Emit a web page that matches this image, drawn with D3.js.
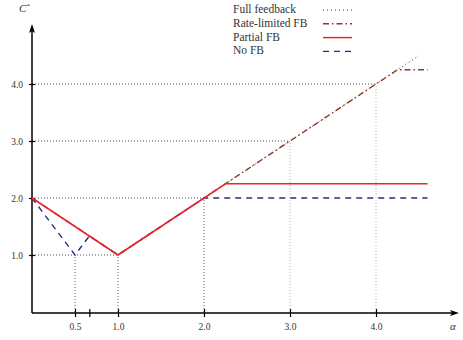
<!DOCTYPE html>
<html><head><meta charset="utf-8">
<script src="https://cdn.jsdelivr.net/npm/d3@7"></script>
<style>body{margin:0;background:#fff}svg{display:block}text{font-family:"Liberation Serif","DejaVu Serif",serif;fill:#333}</style>
</head><body>
<svg id="c" width="463" height="340"></svg>
<script>
const xTicks = [0.5, 2/3, 1, 2, 3, 4];
const xTickLabels = ["0.5", "", "1.0", "2.0", "3.0", "4.0"];
const yTicks = [1, 2, 3, 4];
const yTickLabels = ["1.0", "2.0", "3.0", "4.0"];
const seriesNames = ["Full feedback", "Rate-limited FB", "Partial FB", "No FB"];
const fullFB = [[0,2],[1,1],[4.5,4.5]];
const rateFB = [[0,2],[1,1],[4.25,4.25],[4.6,4.25]];
const partialFB = [[0,2],[1,1],[2.25,2.25],[4.6,2.25]];
const noFB = [[0,2],[0.5,1],[2/3,4/3],[1,1],[2,2],[4.6,2]];
const guides = [[0.5,1],[1,1],[2,2],[3,3],[4,4]];

const svg = d3.select("#c");
const x = d3.scaleLinear().domain([0,1]).range([32,118]);
const y = d3.scaleLinear().domain([0,1]).range([312,255]);
const line = d3.line().x(d=>x(d[0])).y(d=>y(d[1]));

const gy = [[1,1],[2,2],[3,3],[4,4]];
gy.forEach(([gx,gyv])=>{
  svg.append("line").attr("x1",x(0)).attr("x2",x(gx)).attr("y1",y(gyv)).attr("y2",y(gyv))
    .attr("stroke","#222").attr("stroke-width",0.8).attr("stroke-dasharray","1,2");
});
guides.forEach(([gx,gyv])=>{
  svg.append("line").attr("x1",x(gx)).attr("x2",x(gx)).attr("y1",y(0)).attr("y2",y(gyv))
    .attr("stroke", gx>=3?"#999":"#333").attr("stroke-width",0.8).attr("stroke-dasharray","1,2");
});

const xAxis = d3.axisBottom(x).tickValues(xTicks).tickSize(0).tickFormat((d,i)=>xTickLabels[i]);
const gx = svg.append("g").attr("transform",`translate(0,${y(0)+1})`).call(xAxis);
gx.select(".domain").remove();
gx.selectAll(".tick text").attr("dy","1.5em").attr("y",3).style("font-size","9.5px").style("font-family","Liberation Serif, serif").attr("fill","#444");
gx.selectAll(".tick").append("line").attr("y1",-4).attr("y2",4).attr("stroke","#000").attr("stroke-width",1.2);

const yAxis = d3.axisLeft(y).tickValues(yTicks).tickSize(0).tickFormat((d,i)=>yTickLabels[i]);
const gyA = svg.append("g").attr("transform",`translate(${x(0)},0)`).call(yAxis);
gyA.select(".domain").remove();
gyA.selectAll(".tick text").attr("x",-9).style("font-size","9.5px").style("font-family","Liberation Serif, serif").attr("fill","#444");
gyA.selectAll(".tick").append("line").attr("x1",-3).attr("x2",3).attr("stroke","#000").attr("stroke-width",1.2);

svg.append("line").attr("x1",x(0)).attr("x2",452).attr("y1",y(0)+1).attr("y2",y(0)+1).attr("stroke","#000").attr("stroke-width",1.5);
svg.append("path").attr("d",`M459,${y(0)+1} L450,${y(0)-2} L452,${y(0)+1} L450,${y(0)+4} Z`).attr("fill","#000");
svg.append("line").attr("x1",x(0)).attr("x2",x(0)).attr("y1",y(0)+1).attr("y2",31).attr("stroke","#000").attr("stroke-width",1.5);
svg.append("path").attr("d",`M${x(0)},24 L${x(0)-3},33 L${x(0)},31 L${x(0)+3},33 Z`).attr("fill","#000");

svg.append("text").attr("x",19).attr("y",12).style("font-size","11px").style("font-style","italic").text("C");
svg.append("text").attr("x",26.5).attr("y",8).style("font-size","7px").text("*");
svg.append("text").attr("x",450).attr("y",330).style("font-size","11px").style("font-style","italic").text("α");

const styles = [
  {data:fullFB, stroke:"#444", w:1, dash:"1,3"},
  {data:rateFB, stroke:"#8b3a28", w:1.4, dash:"6,3,1.5,3"},
  {data:noFB, stroke:"#2b2b8c", w:1.4, dash:"6,5"},
  {data:partialFB, stroke:"#e8272c", w:1.5, dash:null},
];
styles.forEach(s=>{
  svg.append("path").datum(s.data).attr("d",line).attr("fill","none")
    .attr("stroke",s.stroke).attr("stroke-width",s.w).attr("stroke-dasharray",s.dash);
});

const legStyles = [styles[0], styles[1], styles[3], styles[2]];
seriesNames.forEach((n,i)=>{
  const cy = 9 + i*13.8;
  svg.append("text").attr("x",233).attr("y",cy+4).style("font-size","11.5px").attr("fill","#222").text(n);
  const s = legStyles[i];
  svg.append("line").attr("x1",323).attr("x2",352).attr("y1",cy+1).attr("y2",cy+1)
    .attr("stroke",s.stroke).attr("stroke-width",s.w).attr("stroke-dasharray",s.dash);
});
</script>
</body></html>
